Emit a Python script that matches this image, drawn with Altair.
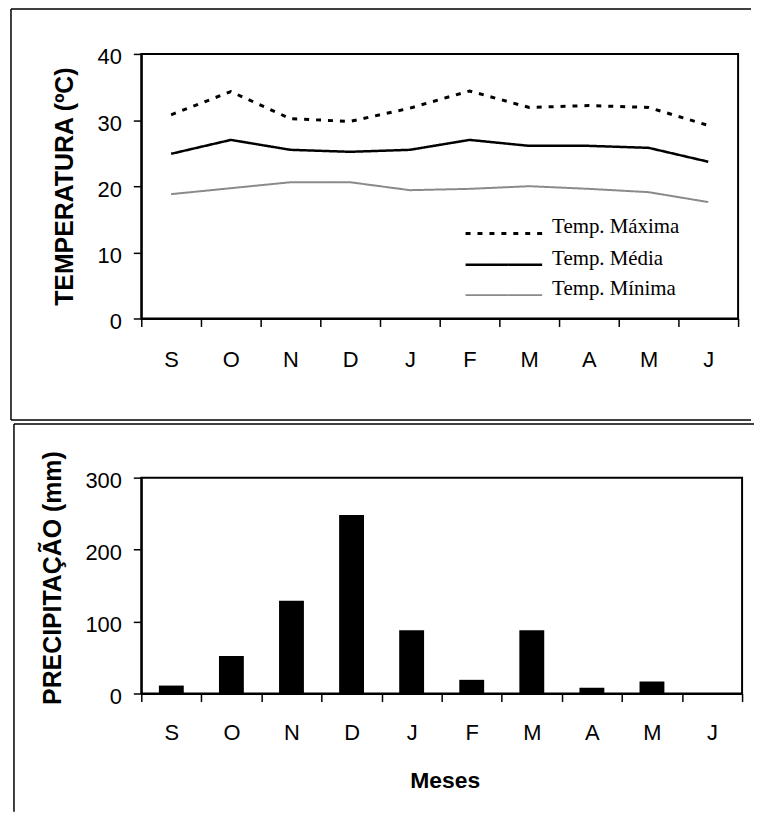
import json
import altair as alt
import pandas as pd

# ---------------- data ----------------
months = ["Set", "Out", "Nov", "Dez", "Jan", "Fev", "Mar", "Abr", "Mai", "Jun"]
month_labels = ["S", "O", "N", "D", "J", "F", "M", "A", "M", "J"]

series_names = ["Temp. Máxima", "Temp. Média", "Temp. Mínima"]
temp_max = [30.8, 34.3, 30.2, 29.8, 31.8, 34.4, 31.9, 32.2, 31.9, 29.2]
temp_med = [24.9, 27.0, 25.5, 25.2, 25.5, 27.0, 26.1, 26.1, 25.8, 23.7]
temp_min = [18.8, 19.7, 20.6, 20.6, 19.4, 19.6, 20.0, 19.6, 19.1, 17.6]

precip = [11, 52, 129, 248, 88, 19, 88, 8, 16.5, 0]

temp_ticks = [0, 10, 20, 30, 40]
precip_ticks = [0, 100, 200, 300]

# ---------------- tables ----------------
rows = []
for name, vals in zip(series_names, [temp_max, temp_med, temp_min]):
    for i, (m, v) in enumerate(zip(months, vals)):
        rows.append({"mes": m, "serie": name, "temp": v, "ordem": i})
temp_df = pd.DataFrame(rows)
prec_df = pd.DataFrame({"mes": months, "prec": precip})
one = pd.DataFrame({"k": [0]})

label_expr = f"{json.dumps(month_labels)}[indexof({json.dumps(months)}, datum.value)]"

SANS = "Liberation Sans, Arial, Helvetica, sans-serif"
SERIF = "Liberation Serif, Times New Roman, serif"

W1, H1 = 600, 266
W2, H2 = 604, 217
PAD = {"left": 1, "top": -3, "right": 0, "bottom": 0}


def xaxis(pad, title=None, **kw):
    return alt.Axis(
        title=title,
        labelExpr=label_expr,
        tickBand="extent",
        tickSize=8,
        labelPadding=pad,
        labelAngle=0,
        labelFontSize=22,
        labelFont=SANS,
        **kw,
    )


def frame_h(x1, x2, y):
    return alt.Chart(one).mark_rule(color="black", strokeWidth=1.5).encode(
        x=alt.value(x1), x2=alt.value(x2), y=alt.value(y)
    )


def frame_v(x, y1, y2):
    return alt.Chart(one).mark_rule(color="black", strokeWidth=1.5).encode(
        x=alt.value(x), y=alt.value(y1), y2=alt.value(y2)
    )


# ---------------- top: temperatures ----------------
lines = alt.Chart(temp_df).mark_line(strokeCap="butt").encode(
    x=alt.X(
        "mes:N",
        sort=months,
        bandPosition=0.5,
        scale=alt.Scale(type="band", paddingInner=0, paddingOuter=0),
        axis=xaxis(23),
    ),
    y=alt.Y(
        "temp:Q",
        scale=alt.Scale(domain=[0, 40], nice=False),
        axis=alt.Axis(
            values=temp_ticks,
            title="TEMPERATURA (ºC)",
            titleFont=SANS,
            titleFontSize=25,
            titleFontWeight="bold",
            titleAngle=270,
            titleBaseline="alphabetic",
            titleAlign="center",
            titleX=-69.5,
            titleY=H1 / 2,
            tickSize=8,
            labelPadding=12,
            labelOffset=3,
            labelFontSize=22,
            labelFont=SANS,
        ),
    ),
    color=alt.Color(
        "serie:N",
        scale=alt.Scale(domain=series_names, range=["black", "black", "#8a8a8a"]),
        legend=alt.Legend(
            title=None,
            orient="none",
            legendX=354,
            legendY=170,
            padding=0,
            symbolType="M-5,0H5",
            symbolSize=237,
            symbolStrokeWidth=1.5,
            labelFont=SERIF,
            labelFontSize=21,
            labelColor="black",
            labelBaseline="alphabetic",
            labelOffset=38,
            rowPadding=7.5,
        ),
    ),
    strokeDash=alt.StrokeDash(
        "serie:N",
        scale=alt.Scale(domain=series_names, range=[[5, 7], [1, 0], [1, 0]]),
        legend=alt.Legend(title=None),
    ),
    strokeWidth=alt.StrokeWidth(
        "serie:N",
        scale=alt.Scale(domain=series_names, range=[3, 2, 2]),
        legend=None,
    ),
    order="ordem:Q",
)

top = alt.layer(
    lines,
    frame_h(-131, 613, -45.25),
    frame_h(-131, 613, 368),
    frame_v(-131, -45.25, 368),
).properties(width=W1, height=H1)

# ---------------- bottom: precipitation ----------------
bars = alt.Chart(prec_df).mark_bar(color="black", width=alt.RelativeBandSize(0.414)).encode(
    x=alt.X(
        "mes:N",
        sort=months,
        scale=alt.Scale(type="band", paddingInner=0, paddingOuter=0),
        axis=xaxis(
            21,
            title="Meses",
            titleFont=SANS,
            titleFontSize=23,
            titleFontWeight="bold",
            titleBaseline="alphabetic",
            titleAlign="center",
            titleX=305,
            titleY=95,
        ),
    ),
    y=alt.Y(
        "prec:Q",
        scale=alt.Scale(domain=[0, 300], nice=False),
        axis=alt.Axis(
            values=precip_ticks,
            title="PRECIPITAÇÃO (mm)",
            titleFont=SANS,
            titleFontSize=25,
            titleFontWeight="bold",
            titleAngle=270,
            titleBaseline="alphabetic",
            titleAlign="center",
            titleX=-81.5,
            titleY=100.5,
            tickSize=8,
            labelPadding=12,
            labelOffset=3,
            labelFontSize=22,
            labelFont=SANS,
        ),
    ),
)

bottom = alt.layer(
    bars,
    frame_h(-128, 616, -54),
    frame_v(-128, -54, 336),
).properties(width=W2, height=H2)

chart = (
    alt.vconcat(top, bottom, spacing=0)
    .properties(padding=PAD, autosize=alt.AutoSizeParams(type="pad"))
    .configure(padding=PAD, background="white")
    .configure_view(stroke="black", strokeWidth=2)
    .configure_axis(
        domainColor="black",
        domainWidth=2,
        tickColor="black",
        tickWidth=1.5,
        labelColor="black",
        titleColor="black",
        grid=False,
    )
)

chart.save("out.html", embed_options={"renderer": "svg", "actions": False})
